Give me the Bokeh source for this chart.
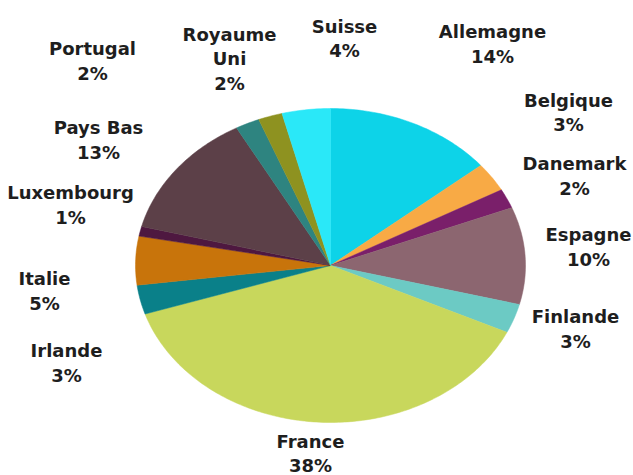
import numpy as np
from bokeh.plotting import figure
from bokeh.models import Range1d, ColumnDataSource, Label
from bokeh.embed import file_html
from bokeh.resources import INLINE

# ---- data ----
countries = ["Allemagne", "Belgique", "Danemark", "Espagne", "Finlande", "France",
             "Irlande", "Italie", "Luxembourg", "Pays Bas", "Portugal", "Royaume Uni", "Suisse"]
shares = [14, 3, 2, 10, 3, 38, 3, 5, 1, 13, 2, 2, 4]
label_texts = ["Allemagne\n14%", "Belgique\n3%", "Danemark\n2%", "Espagne\n10%", "Finlande\n3%",
               "France\n38%", "Irlande\n3%", "Italie\n5%", "Luxembourg\n1%", "Pays Bas\n13%",
               "Portugal\n2%", "Royaume\nUni\n2%", "Suisse\n4%"]
colors = ["#0DD3E8", "#F8AA45", "#7A1F6A", "#8C6670", "#6CCAC4", "#C8D75C",
          "#0A8089", "#C8740B", "#4E1840", "#5C4048", "#2E8480", "#8E9220", "#2AE8F8"]

# label block centres in picture pixels (layout)
label_pos = [(492, 43.5), (568, 112), (574, 175.5), (588, 246.5), (575, 328.5),
             (310, 453), (66, 362.5), (44, 290.5), (70, 204.5), (98, 139.5),
             (92, 60.5), (229, 58.5), (344, 38)]

W, H = 633, 475
CX, CY = 330, 265      # pie centre in plot pixels (from top-left)
RX, RY = 195, 157      # pixel radii

p = figure(width=W, height=H, output_backend="svg", toolbar_location=None,
           x_range=Range1d(-CX / RX, (W - CX) / RX),
           y_range=Range1d(-(H - CY) / RY, CY / RY),
           min_border=0)
p.axis.visible = False
p.grid.visible = False
p.outline_line_color = None
p.background_fill_color = "white"
p.border_fill_color = "white"

total = float(sum(shares))
xs, ys = [], []
start = 0.0
for s in shares:
    a0 = 2 * np.pi * start / total
    a1 = 2 * np.pi * (start + s) / total
    th = np.linspace(a0, a1, max(8, int(s * 4)))
    xs.append([0.0] + list(np.sin(th)))
    ys.append([0.0] + list(np.cos(th)))
    start += s

src = ColumnDataSource(dict(xs=xs, ys=ys, color=colors, name=countries))
p.patches("xs", "ys", source=src, fill_color="color", line_color="color", line_width=0.5)

for txt, (px, py) in zip(label_texts, label_pos):
    p.add_layout(Label(x=px, y=H - py, x_units="screen", y_units="screen",
                       text=txt, text_align="center", text_baseline="middle",
                       text_font="DejaVu Sans", text_font_style="bold",
                       text_font_size="18px", text_color="#1E1E1E",
                       text_line_height=1.16))

open("out.html", "w").write(file_html(p, INLINE))
